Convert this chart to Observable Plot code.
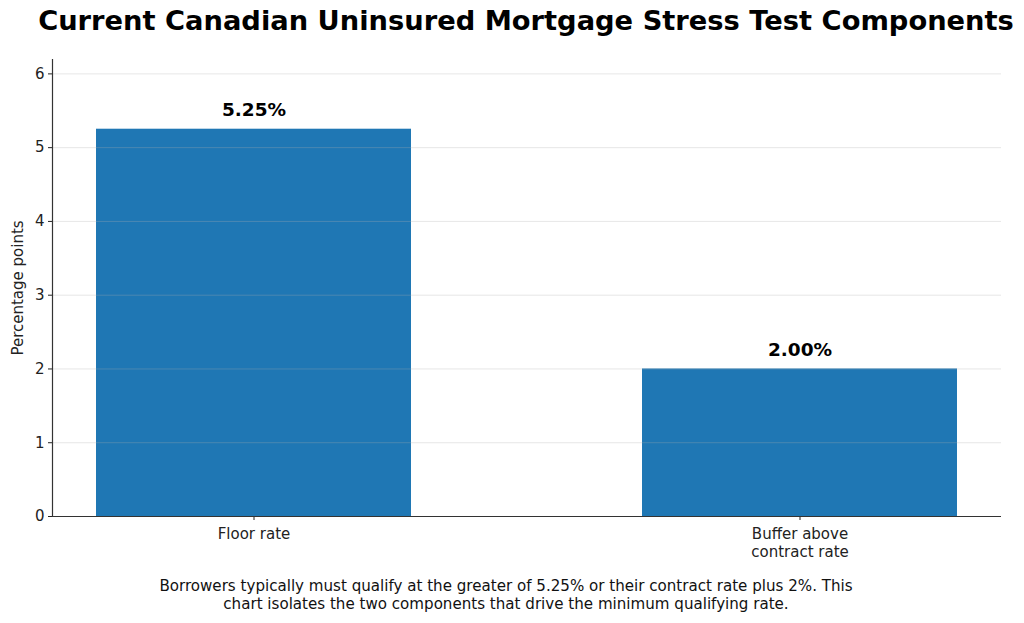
<!DOCTYPE html>
<html>
<head>
<meta charset="utf-8">
<script src="https://cdn.jsdelivr.net/npm/d3@7"></script>
<script src="https://cdn.jsdelivr.net/npm/@observablehq/plot@0.6"></script>
<style>
  html, body { margin: 0; padding: 0; background: #fff; }
  body { width: 1024px; height: 623px; overflow: hidden; font-family: "DejaVu Sans", sans-serif; }
  #title { position: absolute; left: 0; width: 1052px; top: 5px; text-align: center; font-weight: bold; font-size: 27.3px; color: #000; white-space: nowrap; }
  #chart { position: absolute; left: 0; top: 45px; }
  #caption { position: absolute; left: 0; width: 1012px; top: 577px; text-align: center; font-size: 15.1px; line-height: 18px; color: #111; }
</style>
</head>
<body>
<div id="title">Current Canadian Uninsured Mortgage Stress Test Components</div>
<div id="chart"></div>
<div id="caption">Borrowers typically must qualify at the greater of 5.25% or their contract rate plus 2%. This<br>chart isolates the two components that drive the minimum qualifying rate.</div>
<script>
const categories = ["Floor rate", "Buffer above\ncontract rate"];
const values = [5.25, 2.00];
const valueLabels = ["5.25%", "2.00%"];
const yTicks = [0, 1, 2, 3, 4, 5, 6];

const data = categories.map((c, i) => ({category: c, value: values[i], label: valueLabels[i]}));

const chart = Plot.plot({
  width: 1024,
  height: 520,
  marginLeft: 52,
  marginRight: 23,
  marginTop: 14,
  marginBottom: 49,
  style: {fontFamily: "DejaVu Sans, sans-serif", fontSize: "15px", color: "#222", background: "#fff"},
  x: {domain: categories, paddingInner: 0.423, paddingOuter: 0.0805, label: null},
  y: {domain: [0, 6.195], label: null},
  marks: [
    Plot.barY(data, {x: "category", y: "value", fill: "#1f77b4"}),
    Plot.gridY(yTicks, {stroke: "#b0b0b0", strokeOpacity: 0.3, strokeWidth: 1}),
    Plot.text(data, {x: "category", y: "value", text: "label", dy: -19, fontWeight: "bold", fontSize: 18.5, fill: "#000"}),
    Plot.axisY({ticks: yTicks, tickSize: 4, tickPadding: 4, tickFormat: d3.format("d"), fontSize: 15, label: "Percentage points", labelAnchor: "center", labelArrow: "none", labelOffset: 40}),
    Plot.axisX({tickSize: 4, tickPadding: 6, fontSize: 15, label: null, lineHeight: 1.18}),
    Plot.ruleY([0], {stroke: "#333", strokeWidth: 1.2}),
    Plot.frame({anchor: "left", stroke: "#333", strokeWidth: 1.2})
  ]
});
document.getElementById("chart").appendChild(chart);
</script>
</body>
</html>
